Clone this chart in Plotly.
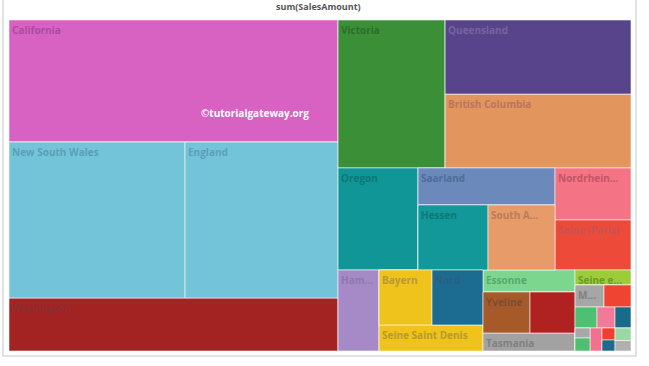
import plotly.graph_objects as go

# ---- data: hierarchy (layout groups have empty labels) ----
ids = [
    "all",
    "L", "California", "GNE", "New South Wales", "England", "Washington",
    "R",
    "R1", "Victoria", "R1b", "Queensland", "British Columbia",
    "R2", "Oregon", "R2b", "Saarland", "R2b2", "Hessen", "South Australia",
    "R2c", "Nordrhein-Westfalen", "Seine (Paris)",
    "R3", "Hamburg", "R3b", "R3b1", "Bayern", "Nord", "Seine Saint Denis",
    "R3c", "Essonne", "R3c1", "Yveline", "Hauts de Seine", "Tasmania",
    "R3d", "Seine et Marne",
    "R3d1", "Moselle", "Loiret",
    "R3d2", "Garonne (Haute)", "Charente-Maritime", "Somme",
    "R3d3", "R3d3a", "Val d'Oise", "Val de Marne", "Pas de Calais",
    "R3d3b", "Loir et Cher", "Ohio", "R3d3c", "Texas", "Wyoming",
]
parents = [
    "",
    "all", "L", "L", "GNE", "GNE", "L",
    "all",
    "R", "R1", "R1", "R1b", "R1b",
    "R", "R2", "R2", "R2b", "R2b", "R2b2", "R2b2",
    "R2", "R2c", "R2c",
    "R", "R3", "R3", "R3b", "R3b1", "R3b1", "R3b",
    "R3", "R3c", "R3c", "R3c1", "R3c1", "R3c",
    "R3", "R3d",
    "R3d", "R3d1", "R3d1",
    "R3d", "R3d2", "R3d2", "R3d2",
    "R3d", "R3d3", "R3d3a", "R3d3a", "R3d3",
    "R3d3", "R3d3b", "R3d3b", "R3d3", "R3d3c", "R3d3c",
]
sales = [
    0,
    0, 40138, 0, 27456, 23868, 17437,
    0,
    0, 15836, 0, 13800, 13700,
    0, 8160, 0, 5069, 0, 4550, 4355,
    0, 3952, 3800,
    0, 3321, 0, 0, 2915, 2805, 2704,
    0, 2024, 0, 1927, 1845, 1656,
    0, 840,
    0, 638, 594,
    0, 462, 378, 336,
    0, 0, 150, 195, 276,
    0, 156, 143, 0, 200, 168,
]
shown = [
    "",
    "", "California", "", "New South Wales", "England", "Washington",
    "",
    "", "Victoria", "", "Queensland", "British Columbia",
    "", "Oregon", "", "Saarland", "", "Hessen", "South A...",
    "", "Nordrhein...", "Seine (Paris)",
    "", "Ham...", "", "", "Bayern", "Nord", "Seine Saint Denis",
    "", "Essonne", "", "Yveline", "", "Tasmania",
    "", "Seine e...",
    "", "M...", "",
    "", "", "", "",
    "", "", "", "", "",
    "", "", "", "", "", "",
]
tile_colors = [
    "#ffffff",
    "#ffffff", "#d862c1", "#ffffff", "#74c4d9", "#74c4d9", "#a32323",
    "#ffffff",
    "#ffffff", "#3b9037", "#ffffff", "#57448b", "#e3955e",
    "#ffffff", "#109696", "#ffffff", "#6b89bb", "#ffffff", "#129898", "#e69b68",
    "#ffffff", "#f47486", "#ee4a3a",
    "#ffffff", "#a68ac8", "#ffffff", "#ffffff", "#efc21c", "#1c6c92", "#efc21c",
    "#ffffff", "#7dd68e", "#ffffff", "#a65a2a", "#b02222", "#a2a2a2",
    "#ffffff", "#9ccc3a",
    "#ffffff", "#a6a6a6", "#f04432",
    "#ffffff", "#4fbf72", "#f07a98", "#1a6a8a",
    "#ffffff", "#ffffff", "#a8a8a8", "#4fbf72", "#f4708c",
    "#ffffff", "#ee4030", "#1c6a8c", "#ffffff", "#9ad8a8", "#b0b0b0",
]
text_colors = [
    "#000000",
    "#000000", "#a94c9f", "#000000", "#5b9fb3", "#5b9fb3", "#8c2e2e",
    "#000000",
    "#000000", "#2c6d29", "#000000", "#74649e", "#b8745e",
    "#000000", "#0c7777", "#000000", "#4f6c9a", "#000000", "#0e7878", "#b97b5c",
    "#000000", "#c25464", "#c85252",
    "#000000", "#8b79a9", "#000000", "#000000", "#b69a32", "#2b5f7f", "#b69a32",
    "#000000", "#58a86f", "#000000", "#7e4b31", "#000000", "#808080",
    "#000000", "#6e9a2a",
    "#000000", "#808080", "#000000",
    "#000000", "#000000", "#000000", "#000000",
    "#000000", "#000000", "#000000", "#000000", "#000000",
    "#000000", "#000000", "#000000", "#000000", "#000000", "#000000",
]

title_text = "sum(SalesAmount)"
watermark = "\u00a9tutorialgateway.org"

fig = go.Figure(go.Treemap(
    ids=ids,
    labels=ids,
    parents=parents,
    values=sales,
    branchvalues="remainder",
    sort=False,
    text=shown,
    texttemplate="%{text}",
    textposition="top left",
    textfont=dict(family="Open Sans", size=10, color=text_colors, weight="bold"),
    marker=dict(colors=tile_colors, pad=dict(t=0, l=0, r=0, b=0),
                line=dict(width=1, color="rgba(255,255,255,0.55)")),
    tiling=dict(packing="slice-dice", pad=0),
    pathbar=dict(visible=False),
    root=dict(color="#ffffff"),
    hoverinfo="skip",
))

fig.update_layout(
    width=649, height=366,
    margin=dict(l=9, r=18, t=20, b=15),
    paper_bgcolor="#ffffff",
    uniformtext=dict(minsize=10, mode="show"),
    shapes=[dict(type="rect", xref="paper", yref="paper",
                 x0=-0.0097, x1=1.008, y0=-0.0151, y1=1.3,
                 line=dict(color="#d9d9d9", width=1.5))],
    annotations=[
        dict(text=title_text, xref="paper", yref="paper", x=0.497, y=1.041,
             xanchor="center", yanchor="middle", showarrow=False,
             font=dict(family="Open Sans", size=9, color="#555555", weight="bold")),
        dict(text=watermark, xref="paper", yref="paper", x=0.3955, y=0.719,
             xanchor="center", yanchor="middle", showarrow=False,
             font=dict(family="Open Sans", size=10, color="#ffffff", weight="bold")),
    ],
)

fig.write_html("out.html", config={"displayModeBar": False},
               post_script="document.body.style.margin='0px';")
